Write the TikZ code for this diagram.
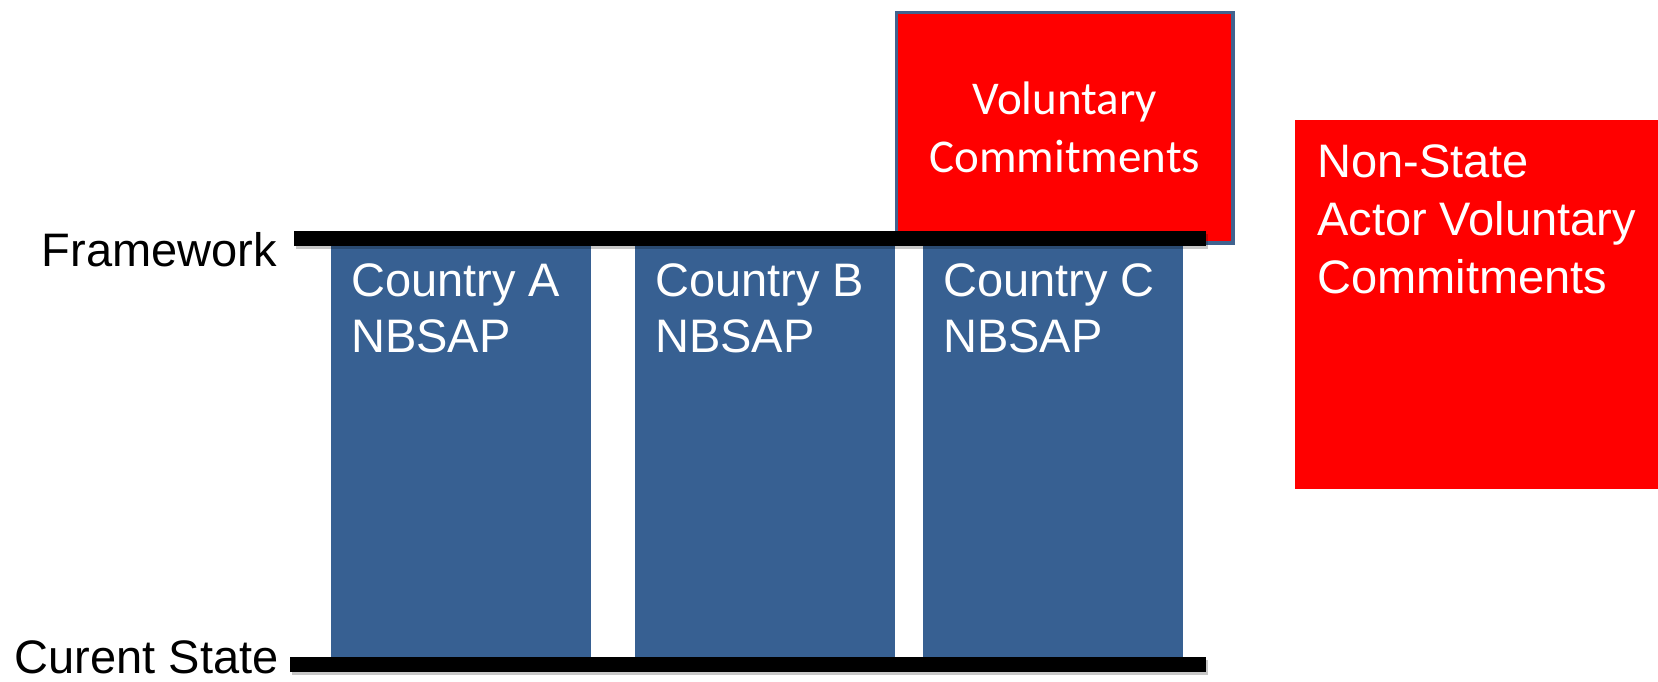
\documentclass[tikz,border=0pt]{standalone}
\usepackage{fontspec}
\setmainfont{Liberation Sans}
\newfontfamily\calibrifont{Carlito}
\definecolor{boxblue}{HTML}{376092}
\definecolor{edgeblue}{HTML}{41638F}
\definecolor{vred}{HTML}{FF0000}
\begin{document}
\begin{tikzpicture}[x=1pt,y=-1pt,
  country/.style={fill=boxblue, draw=none, inner sep=0pt, minimum width=260pt, minimum height=417pt, anchor=north west},
  boxtext/.style={text=white, inner sep=0pt, anchor=base west, align=left, font=\fontsize{47}{56}\selectfont},
  label/.style={text=black, inner sep=0pt, anchor=base east, font=\fontsize{47}{56}\selectfont},
  barshape/.style={fill=black, draw=none, inner sep=0pt, anchor=north west, minimum height=15pt},
  barshadow/.style={fill=black, opacity=0.22, draw=none, inner sep=0pt, anchor=north west, minimum height=15pt},
  volbox/.style={fill=vred, draw=edgeblue, line width=3.5pt, inner sep=0pt, anchor=north west, minimum width=336.5pt, minimum height=230.5pt, text=white, align=center, font=\calibrifont\fontsize{47}{58}\selectfont},
  nsbox/.style={fill=vred, draw=none, inner sep=0pt, anchor=north west, minimum width=363pt, minimum height=369pt},
  nstext/.style={text=white, inner sep=0pt, anchor=base west, align=left, font=\fontsize{47}{58}\selectfont}]
\useasboundingbox (0,0) rectangle (1658,681);
% country boxes
\node[country] (A) at (331,240) {};
\node[country] (B) at (635,240) {};
\node[country] (C) at (923,240) {};
% base anchor of a multi-line node is the baseline of its last line
\node[boxtext] (Atext) at (351,352) {Country A\\NBSAP};
\node[boxtext] (Btext) at (655,352) {Country B\\NBSAP};
\node[boxtext] (Ctext) at (943,352) {Country C\\NBSAP};
% voluntary commitments
\node[volbox] (vol) at (894.75,10.75) {Voluntary\\Commitments};
% bars
\node[barshadow, minimum width=912pt] (fwshadow) at (296,234) {};
\node[barshape, minimum width=912pt] (fwbar) at (294,231) {};
\node[barshadow, minimum width=916pt] (csshadow) at (292,660) {};
\node[barshape, minimum width=916pt] (csbar) at (290,657) {};
% labels
\node[label] (fwlabel) at (277,266) {Framework};
\node[label] (cslabel) at (279,673) {Curent State};
% non-state actors
\node[nsbox] (ns) at (1295,120) {};
\node[nstext] (nstxt) at (1317,293) {Non-State\\Actor Voluntary\\Commitments};
\end{tikzpicture}
\end{document}
